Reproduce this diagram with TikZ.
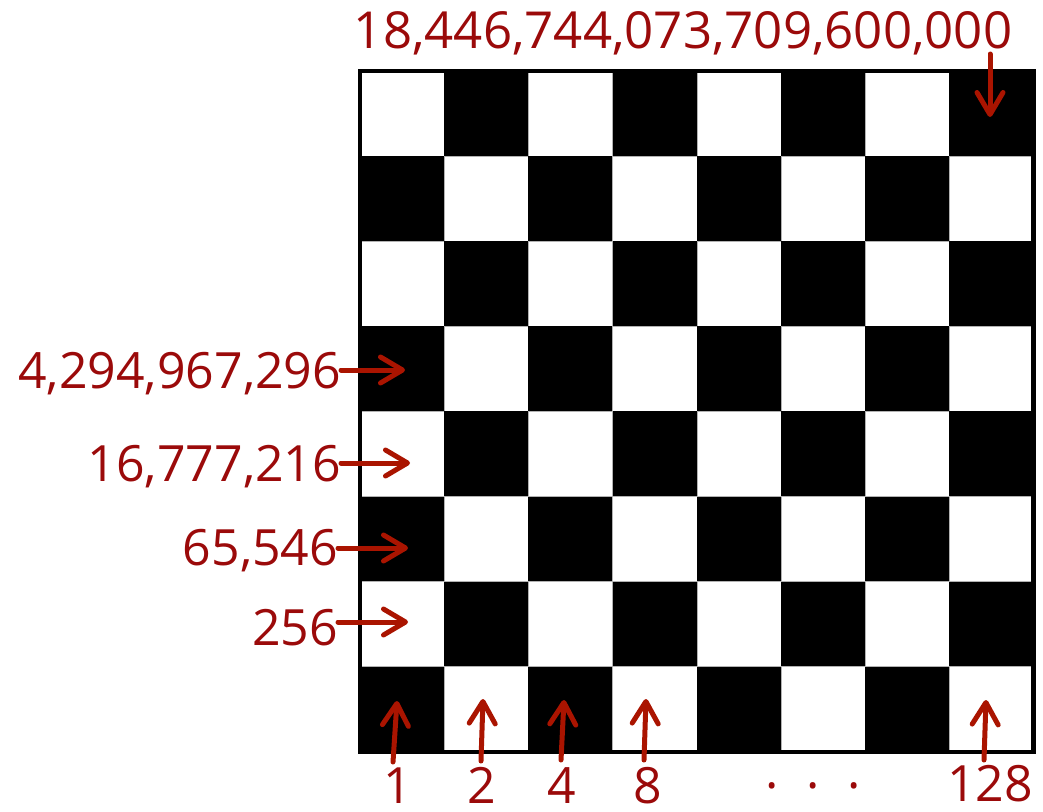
\documentclass[tikz,border=0pt]{standalone}
\usepackage{fontspec}
\setmainfont{Open Sans}
\usetikzlibrary{arrows.meta}
\definecolor{labred}{RGB}{155,10,10}
\definecolor{arrred}{RGB}{170,20,0}
\begin{document}
\begin{tikzpicture}[x=1pt,y=-1pt,
  lab/.style={text=labred, font=\fontsize{50}{55}\selectfont, inner sep=0pt, outer sep=0pt},
  arr/.style={draw=arrred, line width=5pt, line cap=round,
    -{Straight Barb[length=22pt,width=26pt,line cap=round,line join=round]}},
  wsq/.style={fill=white, draw=gray!60, line width=0.6pt, minimum width=84.2pt,
    minimum height=85.1pt, inner sep=0pt, outer sep=0pt},
  bsq/.style={fill=black, minimum width=84.2pt, minimum height=85.1pt, inner sep=0pt, outer sep=0pt},
  frame/.style={draw=black, line width=4.5pt}]
\useasboundingbox (0,0) rectangle (1043,811);
% board
\foreach \r in {0,...,7}{\foreach \c in {0,...,7}{
  \pgfmathtruncatemacro\p{mod(\r+\c,2)}
  \ifnum\p=0
    \node[wsq] (c\r\c) at ({360+84.2*(\c+0.5)},{71+85.1*(\r+0.5)}) {};
  \else
    \node[bsq] (c\r\c) at ({360+84.2*(\c+0.5)},{71+85.1*(\r+0.5)}) {};
  \fi}}
\draw[frame] (c00.north west) rectangle (c77.south east);
% labels
\node[lab, anchor=base, font=\fontsize{51}{55}\selectfont] (top) at (683,48) {18,446,744,073,709,600,000};
\node[lab, anchor=base east] (l1) at (341,388) {4,294,967,296};
\node[lab, anchor=base east] (l2) at (341,481) {16,777,216};
\node[lab, anchor=base east] (l3) at (338,565) {65,546};
\node[lab, anchor=base east] (l4) at (338,645) {256};
\node[lab, anchor=base] (b1) at (398,803) {1};
\node[lab, anchor=base] (b2) at (482,803) {2};
\node[lab, anchor=base] (b3) at (562,803) {4};
\node[lab, anchor=base] (b4) at (648,803) {8};
\node[lab, anchor=base] (dots) at (813,803) {·\hspace{28pt}·\hspace{28pt}·};
\node[lab, anchor=base] (b5) at (990,801) {128};
% arrow ends
\coordinate (t1) at (405,370);
\coordinate (t2) at (410,463);
\coordinate (t3) at (408,548);
\coordinate (t4) at (408,622);
\coordinate (s5) at (393,762); \coordinate (t5) at (397,701);
\coordinate (s6) at (481,761); \coordinate (t6) at (483,699);
\coordinate (s7) at (561,760); \coordinate (t7) at (564,700);
\coordinate (s8) at (644,760); \coordinate (t8) at (646,699);
\coordinate (s9) at (984,760); \coordinate (t9) at (986,700);
\coordinate (s0) at (990,54); \coordinate (t0) at (990,117);
% arrows
\draw[arr] (l1.east |- t1) -- (t1);
\draw[arr] (l2.east |- t2) -- (t2);
\draw[arr] (l3.east |- t3) -- (t3);
\draw[arr] (l4.east |- t4) -- (t4);
\draw[arr] (s5) -- (t5);
\draw[arr] (s6) -- (t6);
\draw[arr] (s7) -- (t7);
\draw[arr] (s8) -- (t8);
\draw[arr] (s9) -- (t9);
\draw[arr] (s0) -- (t0);
\end{tikzpicture}
\end{document}
